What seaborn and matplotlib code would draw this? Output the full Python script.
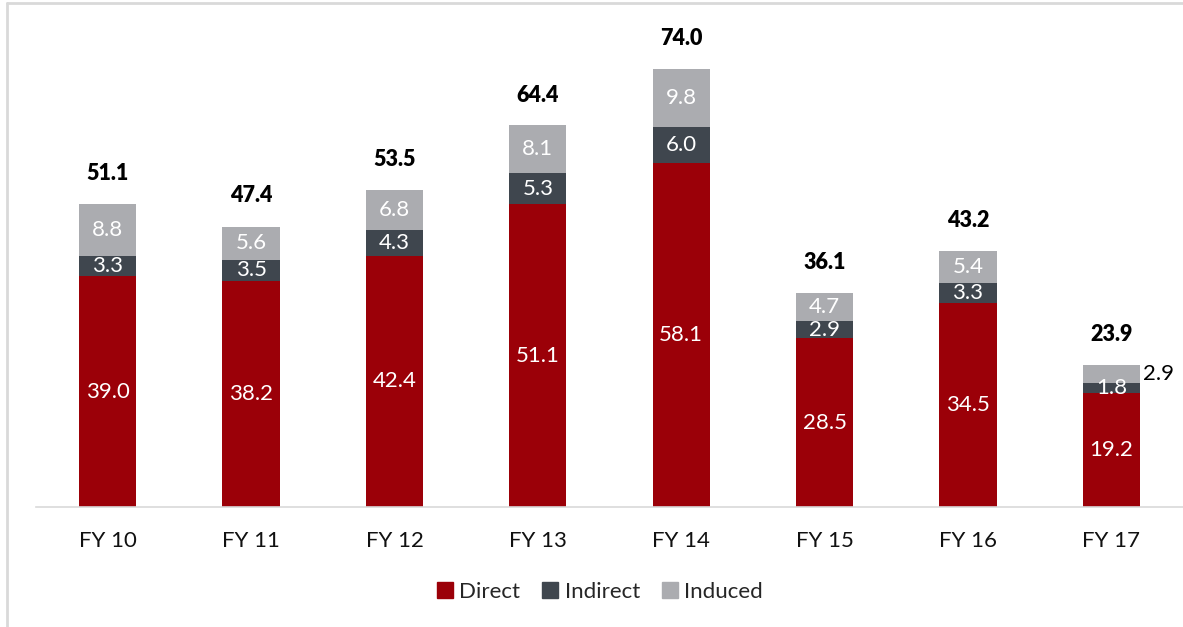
import pandas as pd
import matplotlib.pyplot as plt
import seaborn as sns
from matplotlib.patches import Patch
from matplotlib.lines import Line2D

years = ['FY 10', 'FY 11', 'FY 12', 'FY 13', 'FY 14', 'FY 15', 'FY 16', 'FY 17']
direct = [39.0, 38.2, 42.4, 51.1, 58.1, 28.5, 34.5, 19.2]
indirect = [3.3, 3.5, 4.3, 5.3, 6.0, 2.9, 3.3, 1.8]
induced = [8.8, 5.6, 6.8, 8.1, 9.8, 4.7, 5.4, 2.9]
totals = [51.1, 47.4, 53.5, 64.4, 74.0, 36.1, 43.2, 23.9]

colors = {'Direct': '#9b0008', 'Indirect': '#3f464e', 'Induced': '#abacb0'}

sns.set_style('white')
plt.rcParams['font.family'] = ['Lato', 'DejaVu Sans']

df = pd.DataFrame({'Year': years, 'Direct': direct, 'Indirect': indirect, 'Induced': induced})
df['base_ind'] = df['Direct']
df['base_indu'] = df['Direct'] + df['Indirect']

fig = plt.figure(figsize=(11.83, 6.27), dpi=100)
ax = fig.add_axes([36 / 1183, 120 / 627, 1147 / 1183, 507 / 627])

sns.barplot(data=df, x='Year', y='Direct', color=colors['Direct'], width=0.4,
            saturation=1, linewidth=0, ax=ax)
sns.barplot(data=df, x='Year', y='Indirect', bottom=df['base_ind'], color=colors['Indirect'],
            width=0.4, saturation=1, linewidth=0, ax=ax)
sns.barplot(data=df, x='Year', y='Induced', bottom=df['base_indu'], color=colors['Induced'],
            width=0.4, saturation=1, linewidth=0, ax=ax)

for i in range(len(years)):
    ax.text(i, direct[i] / 2, f'{direct[i]:.1f}', ha='center', va='center',
            color='white', fontsize=16)
    ax.text(i, direct[i] + indirect[i] / 2, f'{indirect[i]:.1f}', ha='center', va='center',
            color='white', fontsize=16)
    mid = direct[i] + indirect[i] + induced[i] / 2
    if i == len(years) - 1:
        ax.text(i + 0.22, mid, f'{induced[i]:.1f}', ha='left', va='center',
                color='black', fontsize=16)
    else:
        ax.text(i, mid, f'{induced[i]:.1f}', ha='center', va='center',
                color='white', fontsize=16)
    ax.annotate(f'{totals[i]:.1f}', (i, totals[i]), xytext=(0, 22), textcoords='offset points',
                ha='center', va='center', fontsize=15.5, fontweight='heavy', color='black')

ax.set_xlim(-0.5, 7.5)
ax.set_ylim(0, 85.6)
ax.set_xlabel('')
ax.set_ylabel('')
ax.set_yticks([])
ax.tick_params(axis='x', length=0, pad=17, labelsize=16, colors='#111111')
for s in ['top', 'right', 'left']:
    ax.spines[s].set_visible(False)
ax.spines['bottom'].set_color('#d9d9d9')
ax.spines['bottom'].set_linewidth(1.2)

handles = [Patch(color=colors[k], label=k) for k in ['Direct', 'Indirect', 'Induced']]
fig.legend(handles=handles, loc='center', bbox_to_anchor=(600 / 1183, 1 - 592 / 627),
           ncol=3, frameon=False, fontsize=16, handlelength=0.7, handleheight=0.7,
           handletextpad=0.3, columnspacing=1.0)

# outer frame, cropped on the right and bottom
fig.add_artist(Line2D([7 / 1183, 7 / 1183], [0, 1 - 3 / 627], color='#d9d9d9', lw=2,
                      transform=fig.transFigure))
fig.add_artist(Line2D([7 / 1183, 1], [1 - 3 / 627, 1 - 3 / 627], color='#d9d9d9', lw=2,
                      transform=fig.transFigure))

fig.savefig('out.png', dpi=100)
